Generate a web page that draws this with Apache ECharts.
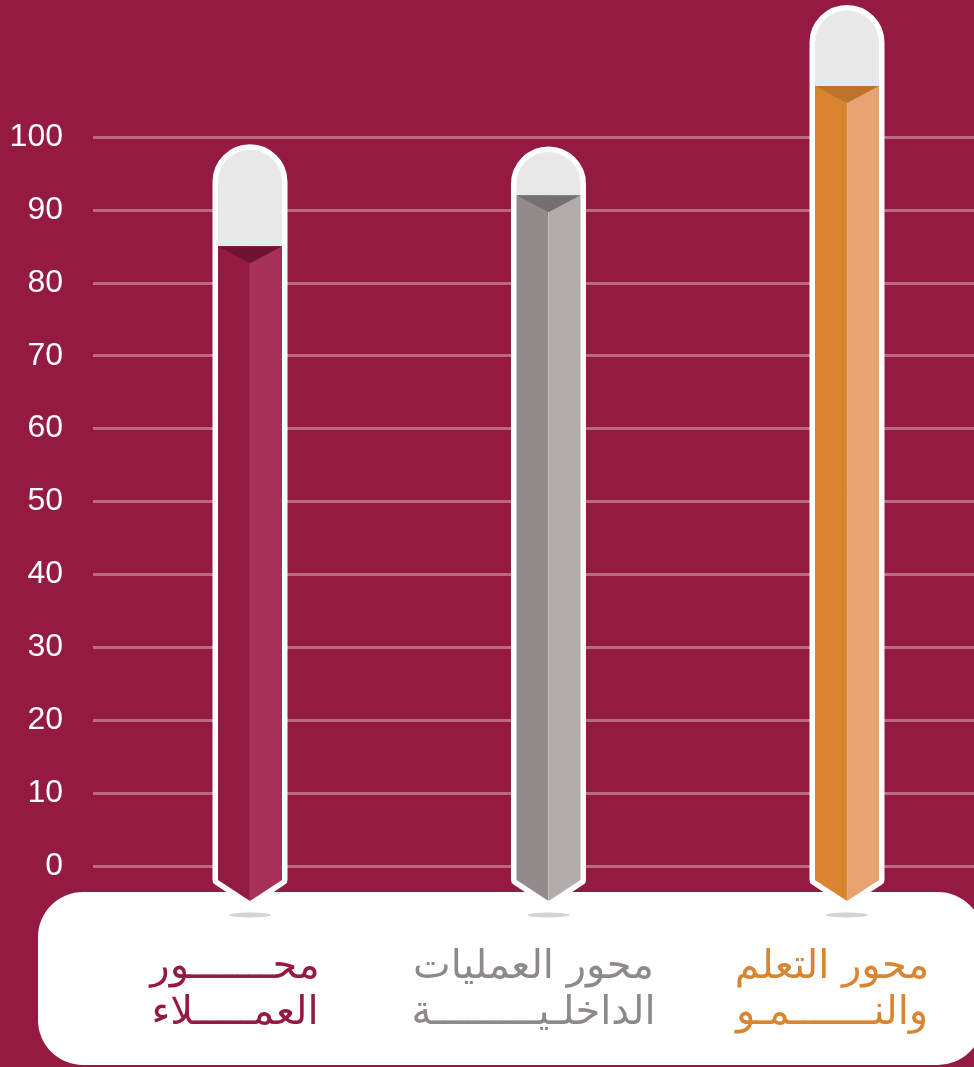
<!DOCTYPE html>
<html><head><meta charset="utf-8">
<script src="https://cdn.jsdelivr.net/npm/echarts@6/dist/echarts.min.js"></script>
<style>html,body{margin:0;padding:0;background:#951a41;}#chart{width:974px;height:1067px;}</style>
</head><body><div id="chart"></div>
<script>
// ---- data ----
const categories = ['محـــــــور\nالعمـــــلاء', 'محور العمليات\nالداخلـيـــــــــة', 'محور التعلم\nوالنـــــــمـو'];
const values = [85, 92, 107];          // top of the coloured body
const capValues = [99, 98.7, 118.1];   // top of the grey cap
const yMin = 0, yMax = 100, yStep = 10;

// ---- styles ----
const palette = [
  {left:'#951a41', right:'#a82f58', tip:'#6f1331', label:'#951a41'},
  {left:'#938b8b', right:'#b1acaa', tip:'#75706f', label:'#8f8888'},
  {left:'#d9842e', right:'#e8a170', tip:'#bf722a', label:'#d9842e'}
];

const chart = echarts.init(document.getElementById('chart'), null, {renderer:'canvas'});

function renderPencil(params, api) {
  const i = api.value(0);
  const base = api.coord([i, 0]);
  const top = api.coord([i, api.value(1)]);
  const cap = api.coord([i, api.value(2)]);
  const cx = base[0], y0 = base[1], yT = top[1];
  const R = 32, B = 5.5;
  const capTop = cap[1] + B;
  const cy = capTop + R;
  const yb = y0 + 14, ytip = y0 + 35;
  const c = palette[i];
  const outline = `M ${cx-R} ${cy} A ${R} ${R} 0 0 1 ${cx+R} ${cy} L ${cx+R} ${yb} L ${cx} ${ytip} L ${cx-R} ${yb} Z`;
  const capPath = `M ${cx-R} ${cy} A ${R} ${R} 0 0 1 ${cx+R} ${cy} L ${cx+R} ${yT} L ${cx-R} ${yT} Z`;
  return { type:'group', children:[
    {type:'circle', x:cx, y:y0+49, scaleY:0.12, shape:{cx:0,cy:0,r:21}, style:{fill:'#d4d4d4'}},
    {type:'path', shape:{pathData: outline}, style:{fill:'#ffffff', stroke:'#ffffff', lineWidth:2*B, lineJoin:'round'}},
    {type:'path', shape:{pathData: capPath}, style:{fill:'#e8e8e8'}},
    {type:'polygon', shape:{points:[[cx-R,yT],[cx,yT],[cx,ytip],[cx-R,yb]]}, style:{fill:c.left}},
    {type:'polygon', shape:{points:[[cx,yT],[cx+R,yT],[cx+R,yb],[cx,ytip]]}, style:{fill:c.right}},
    {type:'line', shape:{x1:cx,y1:yT,x2:cx,y2:ytip}, style:{stroke:'rgba(255,255,255,0.12)', lineWidth:1}},
    {type:'polygon', shape:{points:[[cx-R,yT],[cx+R,yT],[cx,yT+17]]}, style:{fill:c.tip}}
  ]};
}

chart.setOption({
  backgroundColor:'#951a41',
  animation:false,
  graphic:[{
    type:'rect', left:38, top:892, z:1,
    shape:{width:945, height:173, r:45},
    style:{fill:'#ffffff'}
  }],
  grid:[
    {left:93, right:0, top:137, bottom:201},
    {left:250, right:127, top:137, bottom:201}
  ],
  xAxis:[
    {gridIndex:0, type:'value', show:false, min:0, max:1},
    {gridIndex:1, type:'category', data:categories, boundaryGap:false, z:10,
     axisLine:{show:false}, axisTick:{show:false}, splitLine:{show:false},
     axisLabel:{interval:0, margin:79, fontSize:40, lineHeight:46, fontFamily:'DejaVu Sans',
       padding:[0,30,0,0], color:function(v,i){return palette[i].label;}}}
  ],
  yAxis:[
    {gridIndex:0, type:'value', min:yMin, max:yMax, interval:yStep,
     axisLine:{show:false}, axisTick:{show:false},
     axisLabel:{color:'#ffffff', fontSize:32, fontFamily:'Liberation Sans', margin:30},
     splitLine:{lineStyle:{color:'rgba(255,255,255,0.35)', width:3}}},
    {gridIndex:1, type:'value', min:yMin, max:yMax, interval:yStep, show:false, splitLine:{show:false}}
  ],
  series:[{
    type:'custom', xAxisIndex:1, yAxisIndex:1, z:5, clip:false,
    encode:{x:0, y:1},
    data: values.map((v,i)=>[i, v, capValues[i]]),
    renderItem: renderPencil
  }]
});
</script></body></html>
